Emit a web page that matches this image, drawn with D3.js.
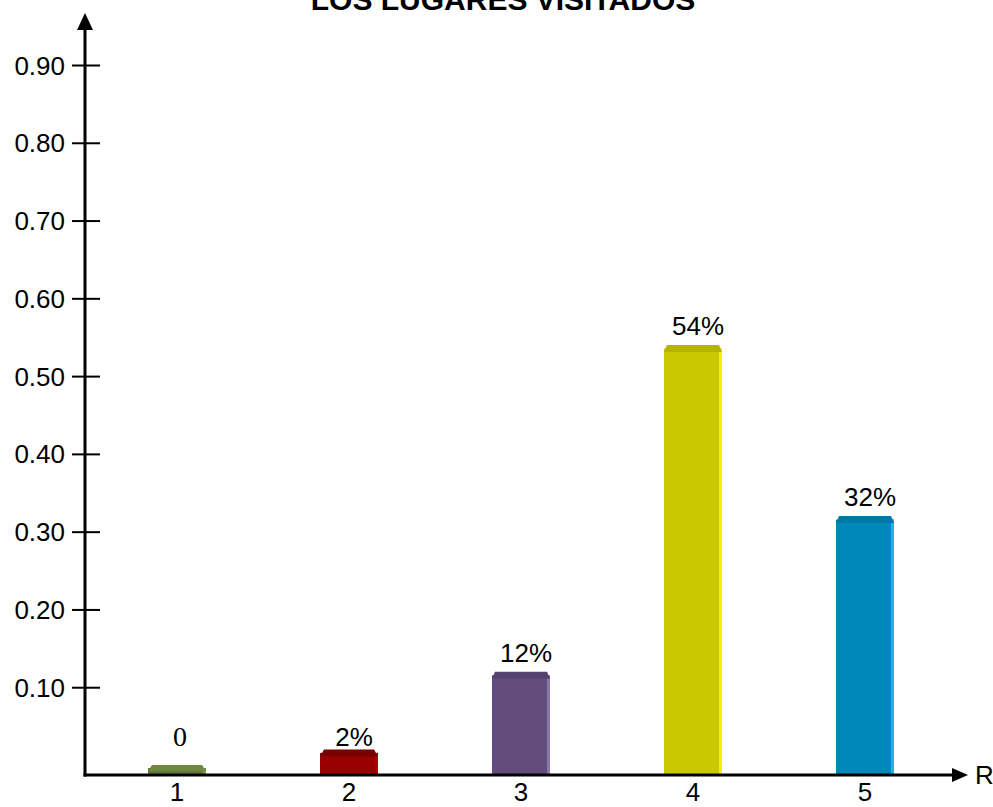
<!DOCTYPE html>
<html>
<head>
<meta charset="utf-8">
<script src="https://cdn.jsdelivr.net/npm/d3@7"></script>
<style>
  html, body { margin: 0; padding: 0; background: #fff; }
  svg { display: block; }
  text { font-family: "Liberation Sans", Arial, sans-serif; fill: #000; }
</style>
</head>
<body>
<svg id="chart" width="993" height="807"></svg>
<script>
// Data
const categories = ["1", "2", "3", "4", "5"];
const values = [0, 0.02, 0.12, 0.54, 0.32];
const valueLabels = ["0", "2%", "12%", "54%", "32%"];
const yTicks = [0.1, 0.2, 0.3, 0.4, 0.5, 0.6, 0.7, 0.8, 0.9];
const barColors = ["#627a39", "#990000", "#624d7c", "#c8c800", "#0088bb"];
const capColors = ["#6e8843", "#7a0000", "#56426f", "#b5b500", "#0077a6"];
const edgeColors = ["#7a9a4a", "#b00000", "#8b77aa", "#f2f200", "#22b2e8"];
const title = "LOS LUGARES VISITADOS";

const svg = d3.select("#chart");

const axisX = 85;       // vertical axis position
const baseY = 775;      // horizontal axis position
const plinth = 10;      // depth of the bar base below the zero level

const y = d3.scaleLinear().domain([0, 0.9]).range([baseY - plinth, 65]);
const x = d3.scalePoint().domain(categories).range([177, 865]);
const barW = 58;

// Title
svg.append("text")
  .attr("x", 503).attr("y", 10)
  .attr("text-anchor", "middle")
  .style("font-weight", "bold")
  .style("font-size", "30px")
  .text(title);

// Bars with bevelled tops
const bars = svg.append("g");
categories.forEach((c, i) => {
  const x0 = x(c) - barW / 2, x1 = x(c) + barW / 2;
  const top = y(values[i]);
  const g = bars.append("g");
  const capH = Math.min(7, (baseY - top) * 0.6);
  const inset = i < 2 ? 4 : 3;
  g.append("rect")
    .attr("x", x0).attr("y", top + capH * 0.5)
    .attr("width", barW).attr("height", baseY - top - capH * 0.5)
    .attr("fill", barColors[i]);
  g.append("rect")
    .attr("x", x1 - 3).attr("y", top + capH * 0.5)
    .attr("width", 3).attr("height", baseY - top - capH * 0.5)
    .attr("fill", edgeColors[i]);
  g.append("path")
    .attr("d", `M${x0},${top + capH} L${x0 + inset},${top} L${x1 - inset},${top} L${x1},${top + capH} Z`)
    .attr("fill", capColors[i]);
});

// Value labels
categories.forEach((c, i) => {
  const isZero = values[i] === 0;
  svg.append("text")
    .attr("x", x(c) + (isZero ? 3 : 5))
    .attr("y", isZero ? y(values[i]) - 19 : y(values[i]) - (i === 1 ? 3 : 10))
    .attr("text-anchor", "middle")
    .style("font-size", isZero ? "28px" : "26px")
    .style("font-family", isZero ? "'Liberation Serif', 'Times New Roman', serif" : null)
    .text(valueLabels[i]);
});

// Y axis with ticks crossing the line
const yAxis = d3.axisLeft(y).tickValues(yTicks).tickFormat(d3.format(".2f")).tickSizeOuter(0);
const gy = svg.append("g").attr("transform", `translate(${axisX},0)`).call(yAxis);
gy.select(".domain").remove();
gy.selectAll(".tick line").attr("x1", -13).attr("x2", 15).attr("stroke", "#000").attr("stroke-width", 2);
gy.selectAll(".tick text")
  .attr("x", -20).attr("dy", "0.35em")
  .style("font-family", "'Liberation Sans', Arial, sans-serif")
  .style("font-size", "26px").attr("fill", "#000");

// Axis lines with arrowheads
svg.append("line")
  .attr("x1", axisX).attr("y1", baseY + 1.5).attr("x2", axisX).attr("y2", 28)
  .attr("stroke", "#000").attr("stroke-width", 3);
svg.append("path")
  .attr("d", `M${axisX - 8},30 L${axisX},13 L${axisX + 8},30 Z`).attr("fill", "#000");
svg.append("line")
  .attr("x1", axisX - 1.5).attr("y1", baseY).attr("x2", 954).attr("y2", baseY)
  .attr("stroke", "#000").attr("stroke-width", 3);
svg.append("path")
  .attr("d", `M952,${baseY - 7} L968,${baseY} L952,${baseY + 7} Z`).attr("fill", "#000");
svg.append("text")
  .attr("x", 975).attr("y", baseY + 9)
  .style("font-size", "26px")
  .text("R");

// Category labels
categories.forEach((c) => {
  svg.append("text")
    .attr("x", x(c)).attr("y", 801)
    .attr("text-anchor", "middle")
    .style("font-size", "26px")
    .text(c);
});
</script>
</body>
</html>
